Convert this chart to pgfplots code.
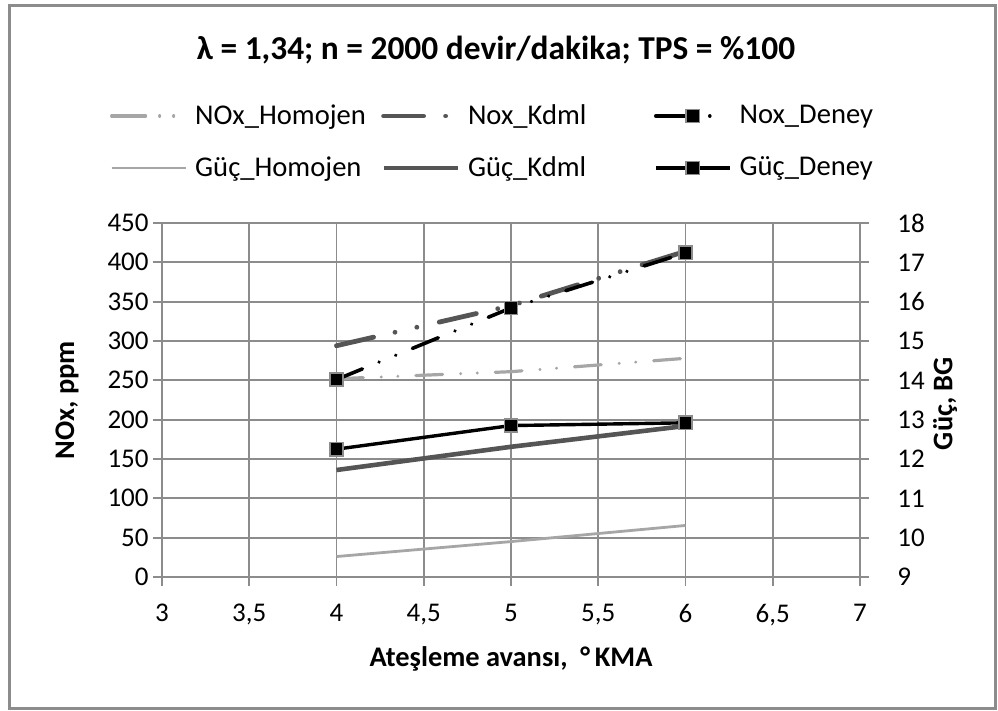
\documentclass[border=0pt]{standalone}
\usepackage{fontspec}
\setmainfont{Carlito}
\usepackage{pgfplots}
\pgfplotsset{compat=1.18}
\definecolor{homc}{HTML}{A6A6A6}
\definecolor{kdmlc}{HTML}{555555}
\definecolor{gridc}{HTML}{8C8C8C}
\pgfplotsset{
  homN/.style={homc, line width=1.6pt, line cap=round, dash pattern=on 13.4pt off 9pt on 0.01pt off 8.3pt on 0.01pt off 9pt},
  kdmlN/.style={kdmlc, line width=2.4pt, line cap=round, dash pattern=on 19pt off 11pt on 0.01pt off 11.2pt on 0.01pt off 11.5pt},
  deneyN/.style={black, line width=1.8pt, line cap=round, dash pattern=on 14pt off 9pt on 0.01pt off 9pt on 0.01pt off 9pt,
     mark=square*, mark size=3.3pt, mark options={solid, fill=black, draw=gridc, line width=0.8pt}},
  homG/.style={homc, line width=1.4pt},
  kdmlG/.style={kdmlc, line width=2.3pt},
  deneyG/.style={black, line width=1.7pt, mark=square*, mark size=3.3pt, mark options={solid, fill=black, draw=gridc, line width=0.8pt}},
  common/.style={
    at={(81pt,67pt)}, anchor=south west,
    width=349pt, height=177pt, scale only axis,
    xmin=3, xmax=7,
    tick align=outside, major tick length=4.5pt,
    tick style={gridc, line width=0.9pt},
    axis line style={gridc, line width=0.9pt, -},
    tick label style={font=\fontsize{13.5}{15}\selectfont},
    /pgf/number format/assume math mode=true,
    /pgf/number format/use comma,
    label style={font=\fontsize{14.2}{16}\selectfont\bfseries},
  },
}
\begin{document}
\begin{tikzpicture}
\useasboundingbox (0,0) rectangle (499pt,355.5pt);
\draw[color=gridc, line width=1.5pt] (4.5pt,1pt) rectangle (497.5pt,352.5pt);
\node[font=\fontsize{16.7}{18}\selectfont\bfseries] at (248pt,330.5pt) {λ = 1,34; n = 2000 devir/dakika; TPS = \%100};

\begin{axis}[common,
  ymin=0, ymax=450,
  xtick={3,3.5,...,7}, ytick={0,50,...,450},
  axis y line*=left, axis x line*=bottom,
  grid=major, grid style={gridc, line width=0.9pt},
  xticklabel style={inner ysep=9pt},
  yticklabel style={inner xsep=2pt},
  xlabel={Ateşleme avansı, \ °\,KMA}, ylabel={NOx, ppm},
  xlabel style={at={(axis description cs:0.5,-0.232)}, anchor=center},
  ylabel style={at={(axis description cs:-0.136,0.5)}, anchor=center},
  legend columns=3,
  legend cell align=left,
  legend image code/.code={\draw[mark repeat=2, mark phase=2, #1] plot coordinates {(0pt,0pt) (18.5pt,0pt) (37pt,0pt)};},
  legend style={at={(axis description cs:-0.0745,1.2288)}, anchor=west,
    draw=none, fill=none, inner sep=0pt, outer sep=0pt,
    font=\fontsize{14.3}{16}\selectfont, row sep=14.5pt,
    /tikz/every odd column/.append style={column sep=4pt},
    nodes={inner sep=0pt}},
]
\addlegendimage{homN, dash pattern=on 17pt off 7pt on 0.01pt off 7pt on 0.01pt off 12pt}
\addlegendentry{\makebox[93pt][l]{NOx\_Homojen}}
\addlegendimage{kdmlN, dash pattern=on 20pt off 11pt on 0.01pt off 20pt}
\addlegendentry{\makebox[93pt][l]{Nox\_Kdml}}
\addlegendimage{deneyN, dash pattern=on 18pt off 9pt on 0.01pt off 20pt}
\addlegendentry{\makebox[93pt][l]{Nox\_Deney}}
\addlegendimage{homG}
\addlegendentry{\makebox[93pt][l]{Güç\_Homojen}}
\addlegendimage{kdmlG}
\addlegendentry{\makebox[93pt][l]{Güç\_Kdml}}
\addlegendimage{deneyG}
\addlegendentry{\makebox[93pt][l]{Güç\_Deney}}

\addplot[homN, forget plot] coordinates {(4,252) (5,261) (6,278)};
\addplot[kdmlN, forget plot] coordinates {(4,294) (5,345) (6,414)};
\addplot[deneyN, forget plot] coordinates {(4,251) (5,342) (6,412)};
\end{axis}

\begin{axis}[common,
  ymin=9, ymax=18, ytick={9,10,...,18},
  axis y line*=right, axis x line=none,
  yticklabel style={inner xsep=14pt},
  ylabel={Güç, BG},
  ylabel style={at={(axis description cs:1.122,0.49)}, anchor=center},
]
\addplot[homG] coordinates {(4,9.52) (5,9.90) (6,10.31)};
\addplot[kdmlG] coordinates {(4,11.72) (5,12.31) (6,12.84)};
\addplot[deneyG] coordinates {(4,12.25) (5,12.85) (6,12.92)};
\end{axis}
\end{tikzpicture}
\end{document}
